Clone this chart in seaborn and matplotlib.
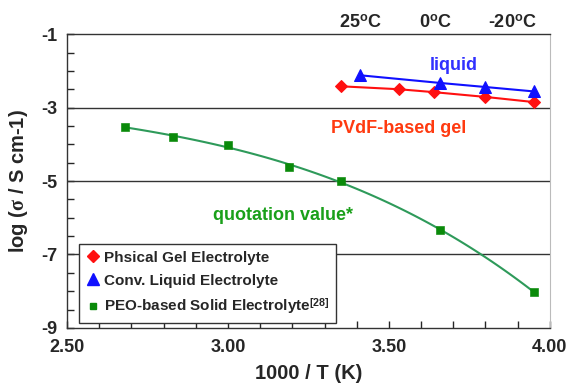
import numpy as np
import pandas as pd
import matplotlib
matplotlib.use("Agg")
import matplotlib.pyplot as plt
from matplotlib.lines import Line2D
from matplotlib.ticker import MultipleLocator
import seaborn as sns

gel_x = [3.35, 3.53, 3.64, 3.80, 3.95]
gel_y = [-2.42, -2.50, -2.58, -2.71, -2.85]

liq_x = [3.41, 3.66, 3.80, 3.95]
liq_y = [-2.12, -2.33, -2.44, -2.56]

peo_x = [2.68, 2.83, 3.00, 3.19, 3.35, 3.66, 3.95]
peo_y = [-3.53, -3.80, -4.02, -4.62, -5.00, -6.33, -8.02]

temp_labels = ["25", "0", "-20"]
temp_pos = [3.41, 3.646, 3.885]

sns.set_style("ticks")
plt.rcParams["font.family"] = ["Liberation Sans", "DejaVu Sans"]
plt.rcParams["font.weight"] = "bold"
plt.rcParams["axes.unicode_minus"] = False
plt.rcParams["mathtext.fontset"] = "custom"
plt.rcParams["mathtext.rm"] = "Liberation Serif"
plt.rcParams["mathtext.it"] = "Liberation Serif:italic"
plt.rcParams["mathtext.bf"] = "Liberation Sans:bold"
plt.rcParams["mathtext.sf"] = "Liberation Sans"

fig = plt.figure(figsize=(5.68, 3.88), dpi=100)
ax = fig.add_axes([0.118, 0.155, 0.850, 0.757])

# horizontal reference lines
for yy in [-3, -5, -7]:
    ax.axhline(yy, color="#333333", lw=1.0, zorder=1)

# PEO smooth curve + squares
sns.regplot(x=peo_x, y=peo_y, order=3, ci=None, scatter=False, truncate=True,
            line_kws=dict(color="#2e9a5a", lw=1.5), ax=ax)
sns.scatterplot(x=peo_x, y=peo_y, marker="s", s=30, color="#0a8a0a",
                edgecolor="#0a8a0a", ax=ax, zorder=4)

sns.lineplot(x=gel_x, y=gel_y, color="#ff1010", lw=1.5, marker="D", markersize=6,
             markeredgecolor="#ff1010", ax=ax, zorder=5)
sns.lineplot(x=liq_x, y=liq_y, color="#1010ff", lw=1.5, marker="^", markersize=8,
             markeredgecolor="#1010ff", ax=ax, zorder=5)

ax.set_xlim(2.5, 4.0)
ax.set_ylim(-9, -1)
ax.set_xticks([2.5, 3.0, 3.5, 4.0])
ax.set_xticklabels(["2.50", "3.00", "3.50", "4.00"])
ax.set_yticks([-9, -7, -5, -3, -1])
ax.xaxis.set_minor_locator(MultipleLocator(0.1))
ax.yaxis.set_minor_locator(MultipleLocator(0.5))
ax.tick_params(which="both", direction="in", length=5, width=1, labelsize=13)
ax.tick_params(axis="y", pad=7)
ax.tick_params(axis="x", pad=8)
for lab in ax.get_xticklabels() + ax.get_yticklabels():
    lab.set_fontweight("bold")
for sp in ["left", "bottom", "top"]:
    ax.spines[sp].set_color("#333333")
    ax.spines[sp].set_linewidth(1.0)
ax.spines["right"].set_visible(True)
ax.spines["right"].set_color("#bbbbbb")
ax.spines["top"].set_visible(True)

ax.set_xlabel("1000 / T (K)", fontsize=14.5, fontweight="bold", labelpad=6)
ax.set_ylabel(r"log ($\mathrm{\sigma}$ / S cm-1)", fontsize=14.5, fontweight="bold", labelpad=8)

# annotations
for lab, xp in zip(temp_labels, temp_pos):
    ax.text(xp, -0.70, lab + r"$^{\mathsf{o}}$C", ha="center", va="center",
            fontsize=13, fontweight="bold")
ax.text(3.70, -1.85, "liquid", color="#3030ff", fontsize=13, fontweight="bold",
        ha="center", va="center")
ax.text(3.53, -3.58, "PVdF-based gel", color="#ff3a10", fontsize=13,
        fontweight="bold", ha="center", va="center")
ax.text(3.17, -5.95, "quotation value*", color="#1aa01a", fontsize=13,
        fontweight="bold", ha="center", va="center")

handles = [
    Line2D([], [], ls="none", marker="D", color="#ff1010", markersize=6),
    Line2D([], [], ls="none", marker="^", color="#1010ff", markersize=8),
    Line2D([], [], ls="none", marker="s", color="#0a8a0a", markersize=5),
]
labels = ["Phsical Gel Electrolyte", "Conv. Liquid Electrolyte",
          r"PEO-based Solid Electrolyte$^{\mathsf{[28]}}$"]
leg = ax.legend(handles, labels, loc="lower left", bbox_to_anchor=(0.01, -0.01),
                frameon=True, fancybox=False, framealpha=1, edgecolor="#333333",
                prop=dict(size=11, weight="bold"), handletextpad=0.2,
                handlelength=1.0, borderpad=0.4, labelspacing=0.6)
leg.get_frame().set_linewidth(1.0)
leg.set_zorder(10)

fig.savefig("out.png", dpi=100)
